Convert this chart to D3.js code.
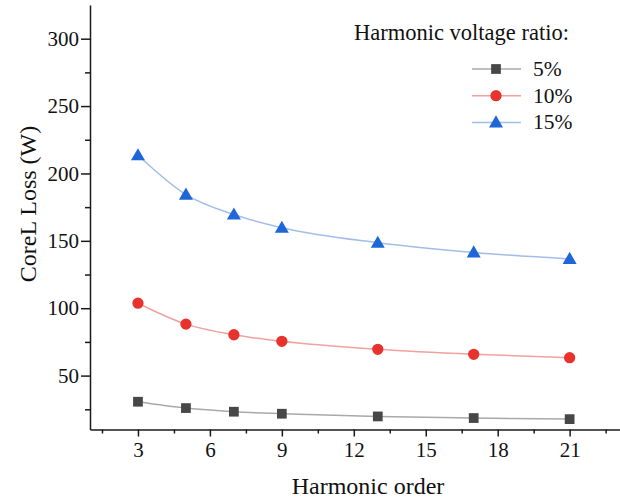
<!DOCTYPE html>
<html><head><meta charset="utf-8">
<script src="https://cdn.jsdelivr.net/npm/d3@7"></script>
<style>body{margin:0;background:#fff}svg{display:block}</style>
</head><body>
<svg id="c" width="620" height="499"></svg>
<script>
const orders = [3, 5, 7, 9, 13, 17, 21];
const loss5 = [30.6, 25.9, 23.2, 21.7, 19.7, 18.5, 17.7];
const loss10 = [103.7, 88.2, 80.3, 75.4, 69.5, 65.8, 63.3];
const loss15 = [213.5, 184.3, 169.5, 159.7, 148.6, 141.4, 136.6];
const seriesNames = ["5%", "10%", "15%"];
const xTicks = [3, 6, 9, 12, 15, 18, 21];
const yTicks = [50, 100, 150, 200, 250, 300];
const legendTitle = "Harmonic voltage ratio:";
const xTitle = "Harmonic order";
const yTitle = "CoreL Loss (W)";

const svg = d3.select("#c");
const font = "'Liberation Serif','Times New Roman',serif";
const x = d3.scaleLinear().domain([1, 23.1]).range([90, 620]);
const y = d3.scaleLinear().domain([10, 325]).range([429.5, 5]);

const series = [
  {name: seriesNames[0], vals: loss5, fill: "#474747", line: "#a9a9a9", shape: d3.symbolSquare, size: 95},
  {name: seriesNames[1], vals: loss10, fill: "#e8322e", line: "#f2a0a0", shape: d3.symbolCircle, size: 100},
  {name: seriesNames[2], vals: loss15, fill: "#1f66d6", line: "#a3bde9", shape: d3.symbolTriangle, size: 85}
];

// axes
const axisColor = "#1a1a1a";
const gx = svg.append("g").attr("transform", "translate(0,429.5)");
gx.call(d3.axisBottom(x).tickValues(d3.range(1.5, 23, 1.5).filter(v => !xTicks.includes(v))).tickSize(4).tickFormat(""));
gx.call(g => g.select(".domain").remove());
const gx2 = svg.append("g").attr("transform", "translate(0,429.5)");
gx2.call(d3.axisBottom(x).tickValues(xTicks).tickSize(7).tickSizeOuter(0).tickPadding(6));
gx2.selectAll("text").attr("font-family", font).attr("font-size", 21).attr("fill", "#111");

const gy = svg.append("g").attr("transform", "translate(90,0)");
gy.call(d3.axisLeft(y).tickValues(d3.range(25, 300, 50)).tickSize(5).tickFormat(""));
gy.call(g => g.select(".domain").remove());
const gy2 = svg.append("g").attr("transform", "translate(90,0)");
gy2.call(d3.axisLeft(y).tickValues(yTicks).tickSize(9).tickSizeOuter(0).tickPadding(2));
gy2.selectAll("text").attr("font-family", font).attr("font-size", 21).attr("fill", "#111");

svg.selectAll(".domain, .tick line").attr("stroke", axisColor).attr("stroke-width", 1.5);

// lines & markers
const line = d3.line().x((d, i) => x(orders[i])).y(d => y(d)).curve(d3.curveMonotoneX);
series.forEach(s => {
  svg.append("path").attr("d", line(s.vals)).attr("fill", "none").attr("stroke", s.line).attr("stroke-width", 1.5);
  svg.append("g").selectAll("path").data(s.vals).join("path")
    .attr("transform", (d, i) => `translate(${x(orders[i])},${y(d) + (s.shape === d3.symbolTriangle ? 1 : 0)})`)
    .attr("d", d3.symbol().type(s.shape).size(s.size))
    .attr("fill", s.fill);
});

// legend
svg.append("text").attr("x", 354).attr("y", 40).attr("font-family", font).attr("font-size", 22.5)
  .attr("fill", "#111").text(legendTitle);
series.forEach((s, i) => {
  const ly = 69 + i * 26.7;
  svg.append("line").attr("x1", 472).attr("x2", 521).attr("y1", ly).attr("y2", ly)
    .attr("stroke", s.line).attr("stroke-width", 1.5);
  svg.append("path").attr("transform", `translate(496,${ly + (s.shape === d3.symbolTriangle ? 1 : 0)})`)
    .attr("d", d3.symbol().type(s.shape).size(s.size)).attr("fill", s.fill);
  svg.append("text").attr("x", 533).attr("y", ly + 7).attr("font-family", font).attr("font-size", 21.5)
    .attr("fill", "#111").text(s.name);
});

// titles
svg.append("text").attr("x", 368).attr("y", 494).attr("text-anchor", "middle")
  .attr("font-family", font).attr("font-size", 24).attr("fill", "#111").text(xTitle);
svg.append("text").attr("transform", "translate(36,204) rotate(-90)").attr("text-anchor", "middle")
  .attr("font-family", font).attr("font-size", 24).attr("fill", "#111").text(yTitle);
</script>
</body></html>
